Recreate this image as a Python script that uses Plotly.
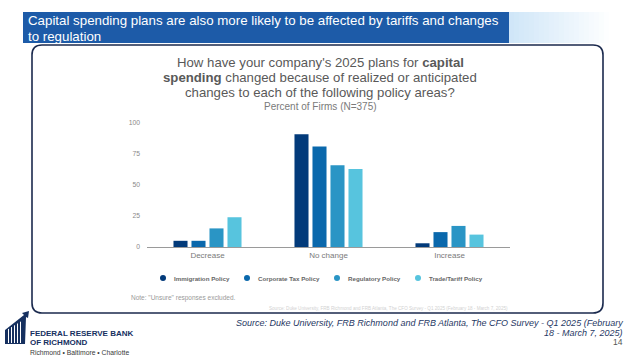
import plotly.graph_objects as go

categories = ["Decrease", "No change", "Increase"]
series_names = ["Immigration Policy", "Corporate Tax Policy", "Regulatory Policy", "Trade/Tariff Policy"]
immigration = [5, 91, 3]
corporate_tax = [5, 81, 12]
regulatory = [15, 66, 17]
trade_tariff = [24, 63, 10]
y_ticks = [0, 25, 50, 75, 100]

colors = ["#023a7a", "#0a68ac", "#2a95c5", "#57c4de"]
values = [immigration, corporate_tax, regulatory, trade_tariff]

W, H = 640, 360
L, R, T, B = 147, 510, 123, 247


def px(x):
    return (x - L) / (R - L)


def py(y):
    return (B - y) / (B - T)


fig = go.Figure()
for name, vals, c in zip(series_names, values, colors):
    fig.add_trace(go.Bar(x=categories, y=vals, name=name, marker=dict(color=c, line=dict(width=0)),
                         showlegend=False))

shapes = []
ann = []

# header bar + gradient
shapes.append(dict(type="rect", xref="paper", yref="paper", x0=px(23), x1=px(509), y0=py(43), y1=py(12),
                   fillcolor="#1d5ba8", line=dict(width=0), layer="below"))
steps = 20
for i in range(steps):
    x0 = 509 + i * 5
    op = 0.55 * (1 - i / steps)
    shapes.append(dict(type="rect", xref="paper", yref="paper", x0=px(x0), x1=px(x0 + 5), y0=py(43), y1=py(12),
                       fillcolor="#a9d2f2", opacity=op, line=dict(width=0), layer="below"))

# rounded box
bx0, bx1, by0, by1, r = 32, 603, 45, 313, 10
X0, X1 = px(bx0), px(bx1)
Y0, Y1 = py(by0), py(by1)
rx = r / (R - L)
ry = r / (B - T)
path = (f"M {X0+rx},{Y0} L {X1-rx},{Y0} Q {X1},{Y0} {X1},{Y0-ry} L {X1},{Y1+ry} Q {X1},{Y1} {X1-rx},{Y1} "
        f"L {X0+rx},{Y1} Q {X0},{Y1} {X0},{Y1+ry} L {X0},{Y0-ry} Q {X0},{Y0} {X0+rx},{Y0} Z")
shapes.append(dict(type="path", xref="paper", yref="paper", path=path, line=dict(color="#1b2a4e", width=1.6),
                   layer="below"))

# legend (manual, circle markers)
leg_dots = [163, 247, 337, 418]
for name, c, dx in zip(series_names, colors, leg_dots):
    shapes.append(dict(type="circle", xref="paper", yref="paper", x0=px(dx - 3), x1=px(dx + 3),
                       y0=py(281), y1=py(275), fillcolor=c, line=dict(width=0)))
    ann.append(dict(text=f"<b>{name}</b>", x=px(dx + 9), y=py(278), xanchor="left", yanchor="middle",
                    font=dict(size=6.2, color="#666666")))

# logo icon
pts = [(5, 344), (5, 330), (24, 315), (22, 313), (29, 311), (28, 318), (26, 317), (25, 344)]
lp = "M " + " L ".join(f"{px(a)},{py(b)}" for a, b in pts) + " Z"
shapes.append(dict(type="path", xref="paper", yref="paper", path=lp, fillcolor="#16305f", line=dict(width=0)))
for xs in [8.5, 11.5, 14.5, 17.5, 20.5]:
    shapes.append(dict(type="line", xref="paper", yref="paper", x0=px(xs), x1=px(xs),
                       y0=py(343), y1=py(331 - (xs - 5) * 0.6), line=dict(color="white", width=1)))

fontf = "Liberation Sans, Arial, sans-serif"

ann += [
    dict(text="Capital spending plans are also more likely to be affected by tariffs and changes",
         x=px(26), y=py(20), xanchor="left", yanchor="middle", font=dict(size=13.3, color="white")),
    dict(text="to regulation", x=px(26), y=py(36), xanchor="left", yanchor="middle",
         font=dict(size=13.3, color="white")),
    dict(text="How have your company's 2025 plans for <b>capital</b>", x=px(320), y=py(62),
         xanchor="center", yanchor="middle", font=dict(size=13.2, color="#595959")),
    dict(text="<b>spending</b> changed because of realized or anticipated", x=px(320), y=py(77),
         xanchor="center", yanchor="middle", font=dict(size=13.2, color="#595959")),
    dict(text="changes to each of the following policy areas?", x=px(320), y=py(92),
         xanchor="center", yanchor="middle", font=dict(size=13.2, color="#595959")),
    dict(text="Percent of Firms (N=375)", x=px(320), y=py(107), xanchor="center", yanchor="middle",
         font=dict(size=10, color="#7a7a7a")),
    dict(text="Note: \"Unsure\" responses excluded.", x=px(129), y=py(298), xanchor="left", yanchor="middle",
         font=dict(size=6.5, color="#9a9a9a")),
    dict(text="Source: Duke University, FRB Richmond and FRB Atlanta, The CFO Survey - Q1 2025 (February 18 - March 7, 2025)",
         x=px(388), y=py(308), xanchor="center", yanchor="middle", font=dict(size=4.6, color="#d2d2d2")),
    dict(text="<i>Source: Duke University, FRB Richmond and FRB Atlanta, The CFO Survey - Q1 2025 (February</i>",
         x=px(625), y=py(323), xanchor="right", yanchor="middle", font=dict(size=9.0, color="#1f3864")),
    dict(text="<i>18 - March 7, 2025)</i>", x=px(625), y=py(332.5), xanchor="right", yanchor="middle",
         font=dict(size=9.0, color="#1f3864")),
    dict(text="14", x=px(625), y=py(342), xanchor="right", yanchor="middle",
         font=dict(size=8.5, color="#555555")),
    dict(text="<b>FEDERAL RESERVE BANK</b>", x=px(28), y=py(333), xanchor="left", yanchor="middle",
         font=dict(size=8.0, color="#16305f")),
    dict(text="<b>OF RICHMOND</b>", x=px(28), y=py(342), xanchor="left", yanchor="middle",
         font=dict(size=8.0, color="#16305f")),
    dict(text="Richmond • Baltimore • Charlotte", x=px(28), y=py(352), xanchor="left", yanchor="middle",
         font=dict(size=6.8, color="#3a3a3a")),
]
for a in ann:
    a.setdefault("xref", "paper")
    a.setdefault("yref", "paper")
    a.setdefault("showarrow", False)
    a["font"].setdefault("family", fontf)

fig.update_layout(
    width=W, height=H,
    margin=dict(l=L, r=W - R, t=T, b=H - B, pad=0),
    paper_bgcolor="white", plot_bgcolor="white",
    barmode="group", bargap=0.405, bargroupgap=0.22,
    font=dict(family=fontf),
    shapes=shapes, annotations=ann, showlegend=False,
    xaxis=dict(showline=True, linecolor="#9a9a9a", linewidth=1, ticks="", showgrid=False,
               tickfont=dict(size=8, color="#7a7a7a"), fixedrange=True),
    yaxis=dict(range=[0, 100], tickvals=y_ticks, showgrid=False, zeroline=False, showline=False,
               ticks="", ticklabelstandoff=6, tickfont=dict(size=6.8, color="#8a8a8a"), fixedrange=True),
)

fig.write_html("out.html", config={"displayModeBar": False},
               post_script="document.body.style.margin='0';document.body.style.padding='0';")
